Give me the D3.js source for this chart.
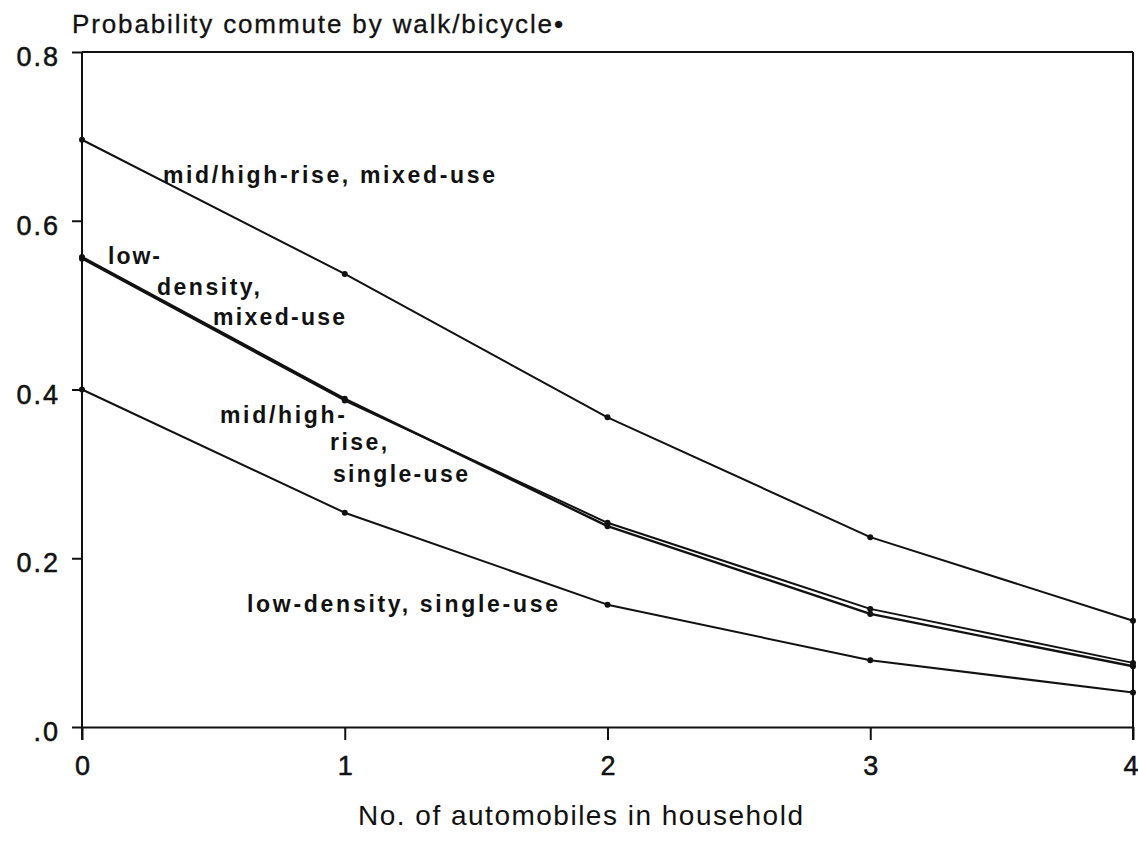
<!DOCTYPE html>
<html>
<head>
<meta charset="utf-8">
<script src="https://cdn.jsdelivr.net/npm/d3@7"></script>
<style>
  body { margin: 0; background: #fff; }
  svg { display: block; font-family: "Liberation Sans", Arial, Helvetica, sans-serif; }
  .axis path, .axis line { stroke: #111; stroke-width: 2; }
</style>
</head>
<body>
<svg id="chart" width="1138" height="841"></svg>
<script>
// number of automobiles in household
const autos = [0, 1, 2, 3, 4];

// probability of walk/bicycle commute, by neighbourhood type
const midHighMixed  = [0.696, 0.537, 0.367, 0.225, 0.126];
const lowDensMixed  = [0.557, 0.389, 0.238, 0.134, 0.072];
const midHighSingle = [0.555, 0.387, 0.242, 0.140, 0.076];
const lowDensSingle = [0.400, 0.254, 0.145, 0.079, 0.041];

const xTicks = [0, 1, 2, 3, 4];
const yTicks = [0, 0.2, 0.4, 0.6, 0.8];

const titleText = "Probability commute by walk/bicycle\u2022";
const xTitle = "No. of automobiles in household";

// label pieces, anchored in data units
const labels = [
  { text: "mid/high-rise, mixed-use", x: 0.308, y: 0.645, w: 332 },
  { text: "low-", x: 0.099, y: 0.549, w: 52 },
  { text: "density,", x: 0.285, y: 0.512, w: 103 },
  { text: "mixed-use", x: 0.499, y: 0.476, w: 132 },
  { text: "mid/high-", x: 0.525, y: 0.360, w: 125 },
  { text: "rise,", x: 0.944, y: 0.328, w: 57 },
  { text: "single-use", x: 0.955, y: 0.290, w: 135 },
  { text: "low-density, single-use", x: 0.628, y: 0.136, w: 311 }
];

const series = [
  { name: "mid/high-rise, mixed-use", values: midHighMixed, width: 2 },
  { name: "low-density, mixed-use", values: lowDensMixed, width: 2.4 },
  { name: "mid/high-rise, single-use", values: midHighSingle, width: 2 },
  { name: "low-density, single-use", values: lowDensSingle, width: 2 }
];

const svg = d3.select("#chart");
const x = d3.scaleLinear().domain([0, 4]).range([82, 1133]);
const y = d3.scaleLinear().domain([0, 0.8]).range([727, 52]);

// frame (top and right)
svg.append("line")
  .attr("x1", x(0)).attr("x2", x(4))
  .attr("y1", y(0.8)).attr("y2", y(0.8))
  .attr("stroke", "#111").attr("stroke-width", 2);
svg.append("line")
  .attr("x1", x(4)).attr("x2", x(4))
  .attr("y1", y(0.8)).attr("y2", y(0) + 13)
  .attr("stroke", "#111").attr("stroke-width", 2);

// axes
const gx = svg.append("g").attr("class", "axis")
  .attr("transform", `translate(0,${y(0)})`)
  .call(d3.axisBottom(x).tickValues(xTicks).tickSize(13).tickSizeOuter(0).tickPadding(16).tickFormat(d3.format("d")));
gx.selectAll("text")
  .attr("dy", "0.71em")
  .attr("fill", "#111")
  .attr("stroke", "#111").attr("stroke-width", 0.5)
  .style("font-family", "'Liberation Sans', Arial, sans-serif")
  .style("font-size", "27px");
// last tick label sits on the page edge, keep it inside
gx.selectAll("text").filter(d => d === 4).attr("text-anchor", "end").attr("dx", 5);

const gy = svg.append("g").attr("class", "axis")
  .attr("transform", `translate(${x(0)},0)`)
  .call(d3.axisLeft(y).tickValues(yTicks).tickSize(10).tickSizeOuter(0).tickPadding(12)
    .tickFormat(d => d === 0 ? ".0" : d3.format(".1f")(d)));
gy.selectAll("text")
  .attr("dy", "0.5em")
  .attr("fill", "#111")
  .attr("stroke", "#111").attr("stroke-width", 0.5)
  .style("font-family", "'Liberation Sans', Arial, sans-serif")
  .style("font-size", "27px")
  .style("letter-spacing", "2px");
gy.select(".domain").attr("d", `M0,${y(0.8)}V${y(0) + 13}`);

// lines
const line = d3.line()
  .x((d, i) => x(autos[i]))
  .y(d => y(d));

svg.append("g").selectAll("path")
  .data(series)
  .join("path")
  .attr("d", d => line(d.values))
  .attr("fill", "none")
  .attr("stroke", "#111")
  .attr("stroke-width", d => d.width)
  .attr("stroke-linejoin", "round");

// points
svg.append("g").selectAll("g")
  .data(series)
  .join("g")
  .selectAll("circle")
  .data(d => d.values)
  .join("circle")
  .attr("cx", (d, i) => x(autos[i]))
  .attr("cy", d => y(d))
  .attr("r", 3)
  .attr("fill", "#111");

// series labels
svg.append("g").selectAll("text")
  .data(labels)
  .join("text")
  .attr("x", d => x(d.x))
  .attr("y", d => y(d.y))
  .attr("textLength", d => d.w)
  .attr("lengthAdjust", "spacing")
  .style("font-size", "23px")
  .style("font-weight", "bold")
  .attr("fill", "#111")
  .text(d => d.text);

// titles
svg.append("text")
  .attr("x", 72).attr("y", 33)
  .attr("textLength", 491).attr("lengthAdjust", "spacing")
  .style("font-size", "26px")
  .attr("fill", "#111")
  .attr("stroke", "#111").attr("stroke-width", 0.3)
  .text(titleText);

svg.append("text")
  .attr("x", 358).attr("y", 825)
  .attr("textLength", 445).attr("lengthAdjust", "spacing")
  .style("font-size", "28px")
  .attr("fill", "#111")
  .text(xTitle);
</script>
</body>
</html>
